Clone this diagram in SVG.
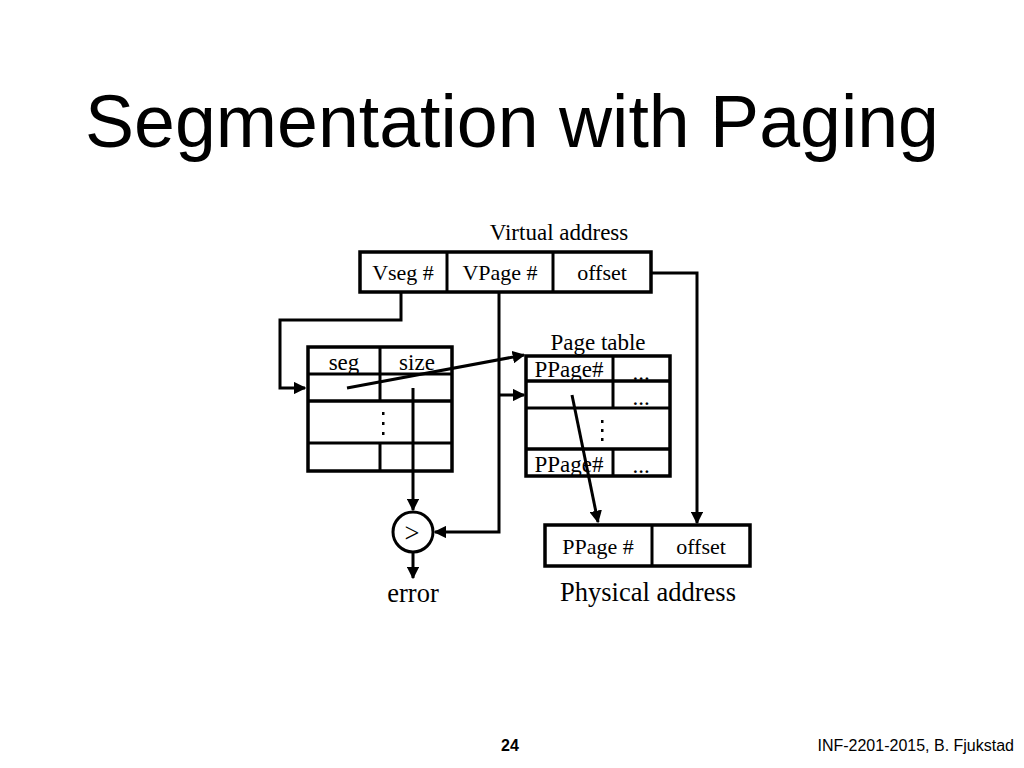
<svg xmlns="http://www.w3.org/2000/svg" width="1024" height="768" viewBox="0 0 1024 768">
<style>
.box{fill:none;stroke:#000;stroke-width:3.5}
.ln{fill:none;stroke:#000;stroke-width:3}
.con{fill:none;stroke:#000;stroke-width:3}
.tx{font-family:"Liberation Serif","Times New Roman",serif;fill:#000;text-anchor:middle}
.s20{font-size:22px}
.s22{font-size:23px}
.s24{font-size:26.5px}
.dot{fill:#000}
</style>
<defs>
<marker id="ah" viewBox="0 0 10 10" refX="9" refY="5" markerWidth="4.2" markerHeight="4.2" orient="auto" markerUnits="strokeWidth">
<path d="M0,0 L10,5 L0,10 z" fill="#000"/>
</marker>
</defs>
<rect width="1024" height="768" fill="#fff"/>
<text x="512" y="147" font-family="'Liberation Sans',Arial,sans-serif" font-size="73.5" text-anchor="middle">Segmentation with Paging</text>

<g id="virtual-address">
<text class="tx s22" x="559" y="240">Virtual address</text>
<rect class="box" x="360" y="252" width="291" height="40"/>
<line class="ln" x1="447" y1="252" x2="447" y2="292"/>
<line class="ln" x1="553" y1="252" x2="553" y2="292"/>
<text class="tx s20" x="403" y="280">Vseg #</text>
<text class="tx s20" x="500" y="280">VPage #</text>
<text class="tx s20" x="602" y="280">offset</text>
</g>

<g id="segment-table">
<rect class="box" x="308" y="347" width="144" height="124"/>
<line class="ln" x1="308" y1="374" x2="452" y2="374"/>
<line class="box" x1="308" y1="401" x2="452" y2="401"/>
<line class="ln" x1="308" y1="443" x2="452" y2="443"/>
<line class="ln" x1="380" y1="347" x2="380" y2="401"/>
<line class="ln" x1="380" y1="443" x2="380" y2="471"/>
<text class="tx s22" x="344" y="370">seg</text>
<text class="tx s22" x="417" y="370">size</text>
<rect class="dot" x="382" y="412" width="2.5" height="3"/>
<rect class="dot" x="382" y="422" width="2.5" height="3"/>
<rect class="dot" x="382" y="432" width="2.5" height="3"/>
</g>

<g id="page-table">
<text class="tx s22" x="598" y="350">Page table</text>
<rect class="box" x="526" y="356" width="144" height="120"/>
<line class="box" x1="526" y1="381" x2="670" y2="381"/>
<line class="ln" x1="526" y1="408" x2="670" y2="408"/>
<line class="box" x1="526" y1="449" x2="670" y2="449"/>
<line class="ln" x1="613" y1="356" x2="613" y2="408"/>
<line class="ln" x1="613" y1="449" x2="613" y2="476"/>
<text class="tx s22" x="569" y="377">PPage#</text>
<text class="tx s22" x="641" y="380">...</text>
<text class="tx s22" x="641" y="405">...</text>
<text class="tx s22" x="569" y="472">PPage#</text>
<text class="tx s22" x="641" y="473">...</text>
<rect class="dot" x="601" y="420" width="2.5" height="3"/>
<rect class="dot" x="601" y="429" width="2.5" height="3"/>
<rect class="dot" x="601" y="438" width="2.5" height="3"/>
</g>

<g id="comparator">
<circle cx="413" cy="532" r="20" fill="#fff" stroke="#000" stroke-width="3"/>
<text class="tx s24" x="412" y="542">&gt;</text>
</g>

<g id="error">
<text class="tx s24" x="413" y="602">error</text>
</g>

<g id="physical-address">
<rect class="box" x="545" y="525" width="205" height="41"/>
<line class="ln" x1="652" y1="525" x2="652" y2="566"/>
<text class="tx s20" x="598" y="554">PPage #</text>
<text class="tx s20" x="701" y="554">offset</text>
<text class="tx s24" x="648" y="601">Physical address</text>
</g>

<g id="connectors">
<path class="con" d="M401,292 V320 H280 V388 H305" marker-end="url(#ah)"/>
<path class="con" d="M499,292 V532 H435" marker-end="url(#ah)"/>
<path class="con" d="M499,395 H524" marker-end="url(#ah)"/>
<path class="con" d="M652,273 H697 V523" marker-end="url(#ah)"/>
<path class="con" d="M347,388 L524,355" marker-end="url(#ah)"/>
<path class="con" d="M413,388 V510" marker-end="url(#ah)"/>
<path class="con" d="M413,553 V578" marker-end="url(#ah)"/>
<path class="con" d="M572,395 L598,522" marker-end="url(#ah)"/>
</g>

<text x="510" y="751" font-family="'Liberation Sans',Arial,sans-serif" font-size="16" font-weight="bold" text-anchor="middle">24</text>
<text x="1014" y="751" font-family="'Liberation Sans',Arial,sans-serif" font-size="16" text-anchor="end">INF-2201-2015, B. Fjukstad</text>
</svg>
